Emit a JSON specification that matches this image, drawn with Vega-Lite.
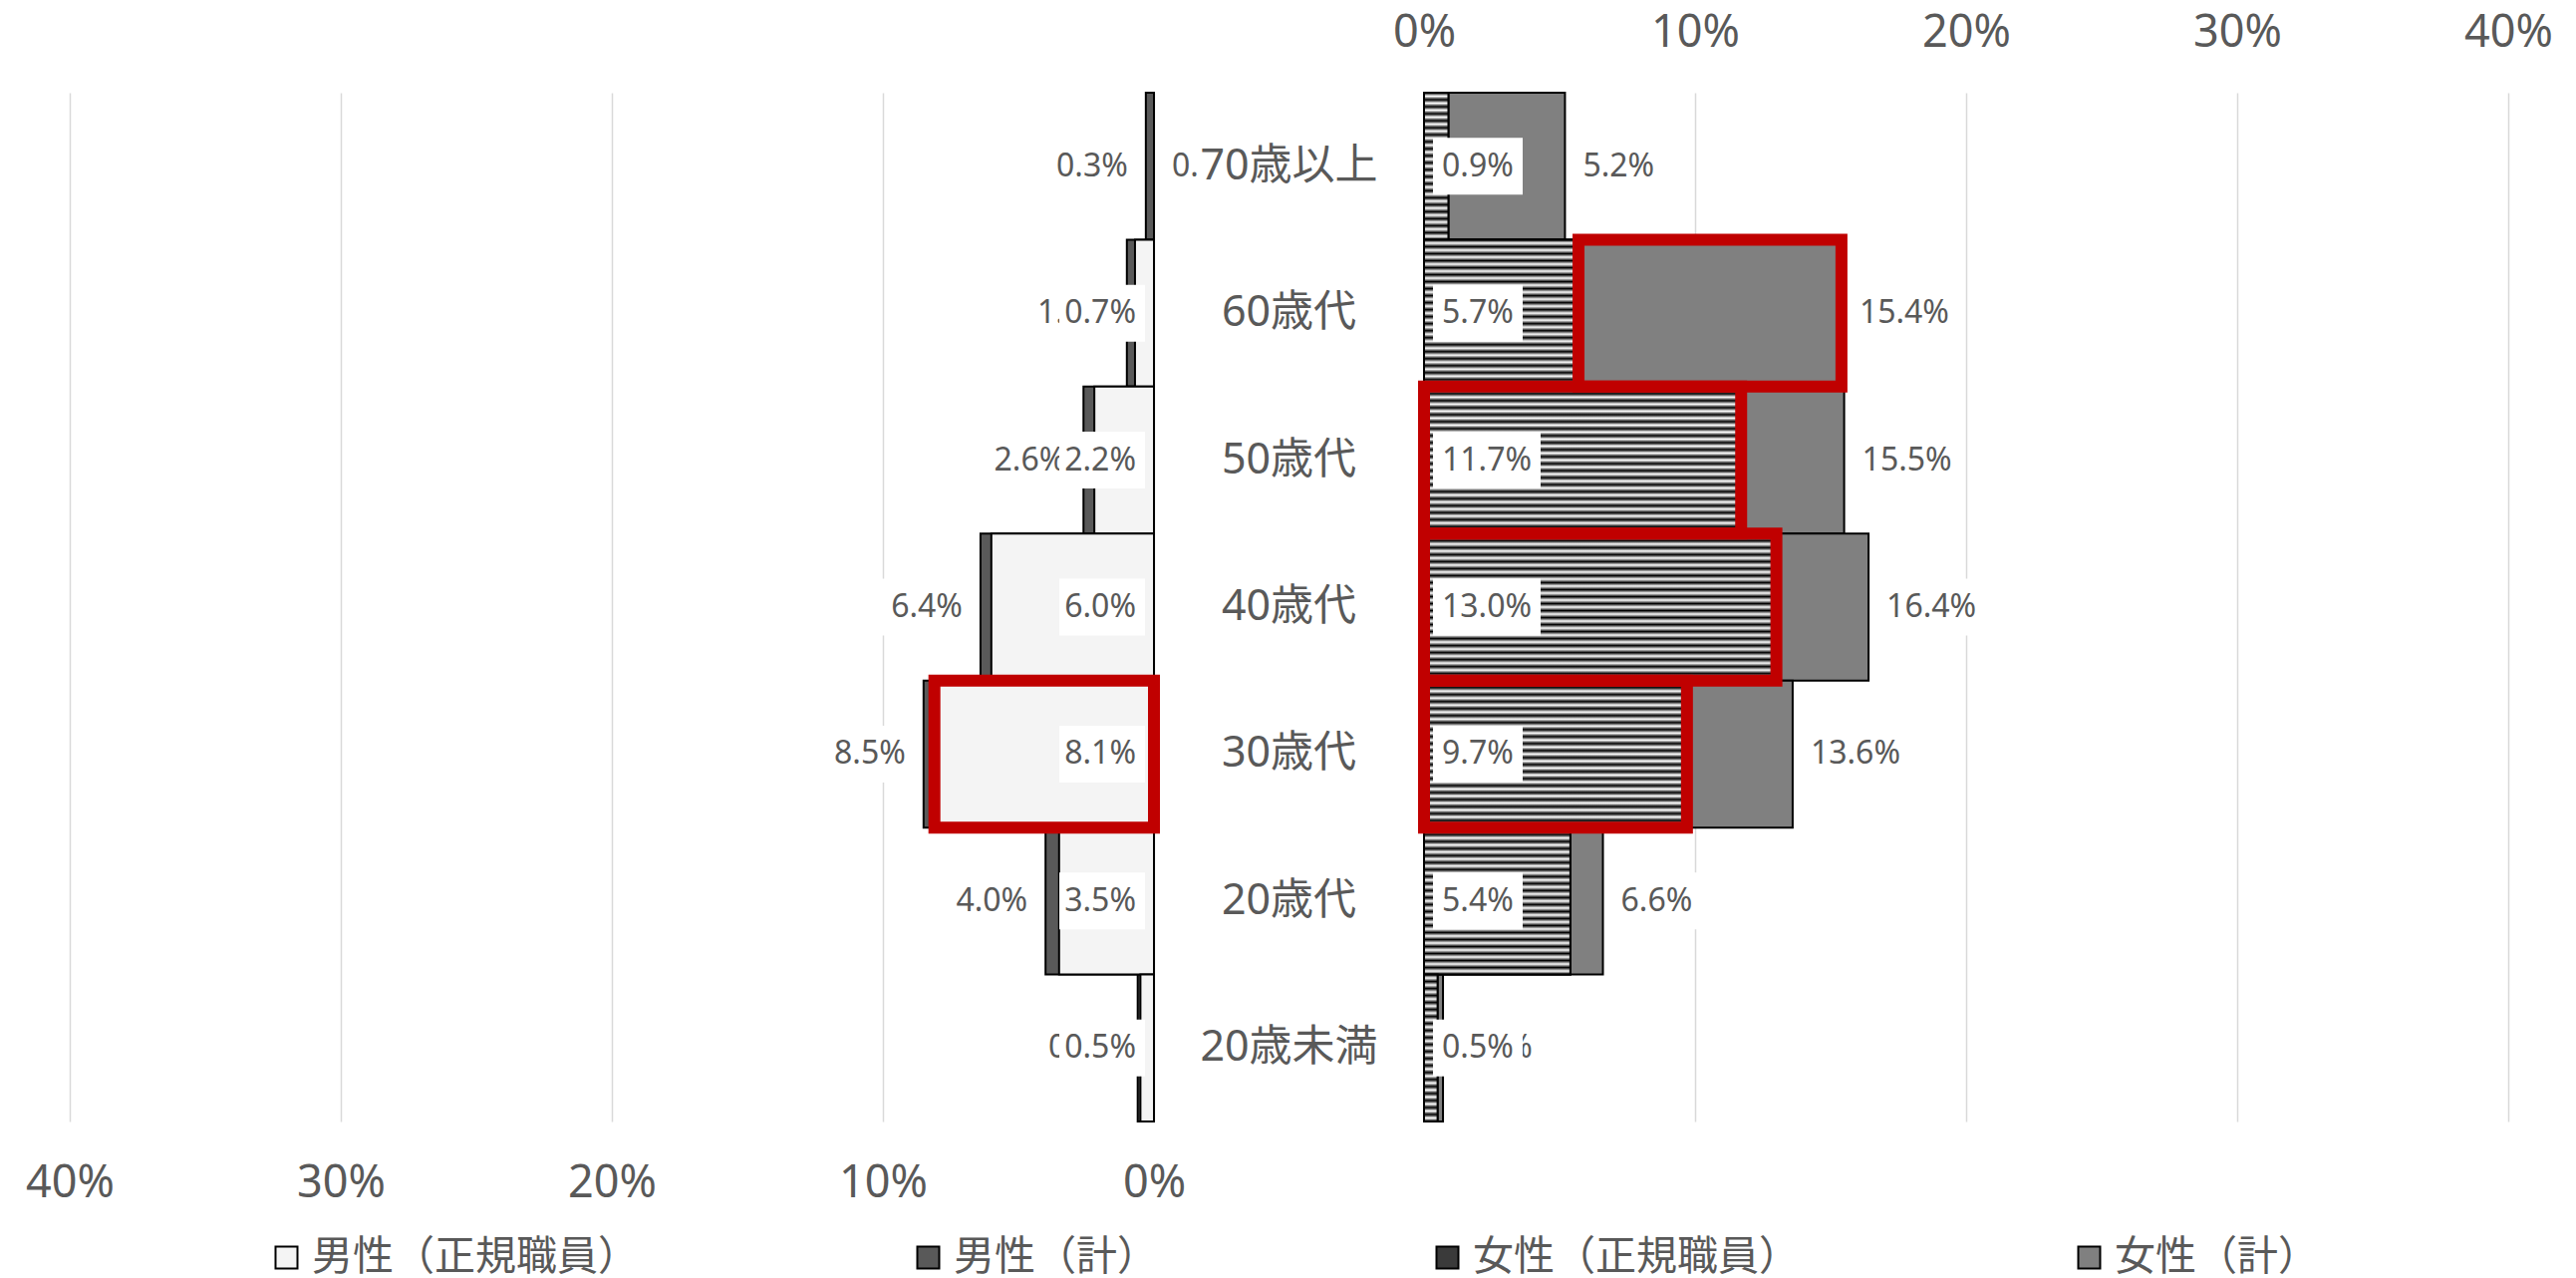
{
  "$schema": "https://vega.github.io/schema/vega-lite/v6.json",
  "background": "white",
  "padding": {"left": 25, "top": 10, "right": 5, "bottom": 5},
  "config": {
    "font": "Noto Sans, Noto Sans CJK JP",
    "view": {"stroke": null},
    "axis": {
      "grid": true, "gridColor": "#d9d9d9", "gridWidth": 1.5,
      "domain": false, "ticks": false,
      "labelFontSize": 45, "labelColor": "#595959", "labelPadding": 61,
      "labelBaseline": "middle", "labelFlush": false, "labelOverlap": false
    }
  },
  "datasets": {
    "ages": [
      {"age": "70歳以上", "m_tot": 0.003, "m_reg": 0.0, "f_reg": 0.009, "f_tot": 0.052},
      {"age": "60歳代", "m_tot": 0.010, "m_reg": 0.007, "f_reg": 0.057, "f_tot": 0.154},
      {"age": "50歳代", "m_tot": 0.026, "m_reg": 0.022, "f_reg": 0.117, "f_tot": 0.155},
      {"age": "40歳代", "m_tot": 0.064, "m_reg": 0.060, "f_reg": 0.130, "f_tot": 0.164},
      {"age": "30歳代", "m_tot": 0.085, "m_reg": 0.081, "f_reg": 0.097, "f_tot": 0.136},
      {"age": "20歳代", "m_tot": 0.040, "m_reg": 0.035, "f_reg": 0.054, "f_tot": 0.066},
      {"age": "20歳未満", "m_tot": 0.006, "m_reg": 0.005, "f_reg": 0.005, "f_tot": 0.007}
    ],
    "hl": [
      {"side": "male", "age": "30歳代", "start": 0, "end": 0.081},
      {"side": "female", "age": "60歳代", "start": 0.057, "end": 0.154},
      {"side": "female", "age": "50歳代", "start": 0, "end": 0.117},
      {"side": "female", "age": "40歳代", "start": 0, "end": 0.130},
      {"side": "female", "age": "30歳代", "start": 0, "end": 0.097}
    ]
  },
  "spacing": 0,
  "bounds": "flush",
  "resolve": {"scale": {"x": "independent", "y": "shared", "fill": "shared"}},
  "hconcat": [
    {
      "width": 1088, "height": 1032,
      "data": {"name": "ages"},
      "encoding": {
        "y": {"field": "age", "type": "nominal", "scale": {"domain": ["70歳以上", "60歳代", "50歳代", "40歳代", "30歳代", "20歳代", "20歳未満"], "paddingInner": 0, "paddingOuter": 0}, "axis": null}
      },
      "layer": [
        {
          "mark": {"type": "bar", "stroke": "#000", "strokeWidth": 2},
          "encoding": {
            "x": {"field": "m_tot", "type": "quantitative", "scale": {"domain": [0, 0.4], "reverse": true, "nice": false}, "axis": {"orient": "bottom", "values": [0, 0.1, 0.2, 0.3, 0.4], "format": ".0%", "title": null}},
            "fill": {"datum": "男性（計）", "type": "nominal",
              "scale": {"domain": ["男性（正規職員）", "男性（計）", "女性（正規職員）", "女性（計）"], "range": ["#f4f4f4", "#595959", "#3a3a3a", "#808080"]},
              "legend": {"orient": "none", "legendX": 197, "legendY": 1148, "direction": "horizontal", "title": null, "labelFontSize": 41, "labelColor": "#595959", "labelLimit": 2000, "gridAlign": "none", "symbolType": "square", "symbolSize": 484, "symbolStrokeColor": "#000", "symbolStrokeWidth": 2, "labelOffset": 5, "columnPadding": 270, "symbolOpacity": 1}}
          }
        },
        {
          "mark": {"type": "bar", "stroke": "#000", "strokeWidth": 2},
          "encoding": {
            "x": {"field": "m_reg", "type": "quantitative", "scale": {"domain": [0, 0.4], "reverse": true, "nice": false}, "axis": {"orient": "bottom", "values": [0, 0.1, 0.2, 0.3, 0.4], "format": ".0%", "title": null}},
            "fill": {"datum": "男性（正規職員）", "type": "nominal"}
          }
        },
        {
          "data": {"name": "hl"},
          "transform": [{"filter": "datum.side === 'male'"}],
          "mark": {"type": "bar", "fill": "transparent", "fillOpacity": 0, "stroke": "#C00000", "strokeWidth": 12},
          "encoding": {
            "x": {"field": "start", "type": "quantitative", "scale": {"domain": [0, 0.4], "reverse": true, "nice": false}, "axis": {"orient": "bottom", "values": [0, 0.1, 0.2, 0.3, 0.4], "format": ".0%", "title": null}},
            "x2": {"field": "end"}
          }
        },
        {
          "mark": {"type": "point", "filled": true, "color": "white", "opacity": 1, "size": 10000, "strokeWidth": 0, "shape": "M-0.18,-0.57H-1.98V0.57H-0.18Z"},
          "encoding": {
            "x": {"field": "m_tot", "type": "quantitative", "scale": {"domain": [0, 0.4], "reverse": true, "nice": false}, "axis": {"orient": "bottom", "values": [0, 0.1, 0.2, 0.3, 0.4], "format": ".0%", "title": null}}
          }
        },
        {
          "mark": {"type": "text", "fontSize": 32, "color": "#595959", "align": "right", "baseline": "middle", "dx": -18},
          "encoding": {
            "x": {"field": "m_tot", "type": "quantitative", "scale": {"domain": [0, 0.4], "reverse": true, "nice": false}, "axis": {"orient": "bottom", "values": [0, 0.1, 0.2, 0.3, 0.4], "format": ".0%", "title": null}},
            "text": {"field": "m_tot", "type": "quantitative", "format": ".1%"}
          }
        },
        {
          "transform": [{"filter": "datum.m_reg > 0"}],
          "mark": {"type": "point", "filled": true, "color": "white", "opacity": 1, "size": 10000, "strokeWidth": 0, "shape": "M-0.18,-0.57H-1.9V0.57H-0.18Z"},
          "encoding": {
            "x": {"datum": 0, "type": "quantitative", "scale": {"domain": [0, 0.4], "reverse": true, "nice": false}, "axis": {"orient": "bottom", "values": [0, 0.1, 0.2, 0.3, 0.4], "format": ".0%", "title": null}}
          }
        },
        {
          "transform": [{"filter": "datum.m_reg > 0"}],
          "mark": {"type": "text", "fontSize": 32, "color": "#595959", "align": "right", "baseline": "middle", "dx": -18},
          "encoding": {
            "x": {"datum": 0, "type": "quantitative", "scale": {"domain": [0, 0.4], "reverse": true, "nice": false}, "axis": {"orient": "bottom", "values": [0, 0.1, 0.2, 0.3, 0.4], "format": ".0%", "title": null}},
            "text": {"field": "m_reg", "type": "quantitative", "format": ".1%"}
          }
        },
        {
          "transform": [{"filter": "datum.m_reg == 0"}],
          "mark": {"type": "text", "fontSize": 32, "color": "#595959", "align": "left", "baseline": "middle", "dx": 18},
          "encoding": {
            "x": {"datum": 0, "type": "quantitative", "scale": {"domain": [0, 0.4], "reverse": true, "nice": false}, "axis": {"orient": "bottom", "values": [0, 0.1, 0.2, 0.3, 0.4], "format": ".0%", "title": null}},
            "text": {"field": "m_reg", "type": "quantitative", "format": ".1%"}
          }
        }
      ]
    },
    {
      "width": 271, "height": 1032,
      "data": {"name": "ages"},
      "encoding": {
        "y": {"field": "age", "type": "nominal", "scale": {"domain": ["70歳以上", "60歳代", "50歳代", "40歳代", "30歳代", "20歳代", "20歳未満"], "paddingInner": 0, "paddingOuter": 0}, "axis": null}
      },
      "layer": [
        {"mark": {"type": "point", "filled": true, "color": "white", "opacity": 1, "size": 10000, "strokeWidth": 0, "shape": "M-1.84,-0.57H1.94V0.57H-1.84Z"}},
        {"mark": {"type": "text", "fontSize": 43, "color": "#595959", "baseline": "middle"}, "encoding": {"text": {"field": "age", "type": "nominal"}}}
      ]
    },
    {
      "width": 1088, "height": 1032,
      "data": {"name": "ages"},
      "encoding": {
        "y": {"field": "age", "type": "nominal", "scale": {"domain": ["70歳以上", "60歳代", "50歳代", "40歳代", "30歳代", "20歳代", "20歳未満"], "paddingInner": 0, "paddingOuter": 0}, "axis": null}
      },
      "layer": [
        {
          "mark": {"type": "bar", "stroke": "#000", "strokeWidth": 2},
          "encoding": {
            "x": {"field": "f_tot", "type": "quantitative", "scale": {"domain": [0, 0.4], "nice": false}, "axis": {"orient": "top", "values": [0, 0.1, 0.2, 0.3, 0.4], "format": ".0%", "title": null}},
            "fill": {"datum": "女性（計）", "type": "nominal"}
          }
        },
        {
          "mark": {"type": "bar", "stroke": "#000", "strokeWidth": 2},
          "encoding": {
            "x": {"field": "f_reg", "type": "quantitative", "scale": {"domain": [0, 0.4], "nice": false}, "axis": {"orient": "top", "values": [0, 0.1, 0.2, 0.3, 0.4], "format": ".0%", "title": null}},
            "fill": {"datum": "女性（正規職員）", "type": "nominal"}
          }
        },
        {
          "mark": {"type": "bar", "stroke": "#000", "strokeWidth": 2, "fill": {"gradient": "linear", "x1": 0, "y1": 0, "x2": 0, "y2": 1, "stops": [
            {"offset": 0, "color": "#000"}, {"offset": 0.0238, "color": "#fff"}, {"offset": 0.0476, "color": "#000"}, {"offset": 0.0714, "color": "#fff"},
            {"offset": 0.0952, "color": "#000"}, {"offset": 0.119, "color": "#fff"}, {"offset": 0.1429, "color": "#000"}, {"offset": 0.1667, "color": "#fff"},
            {"offset": 0.1905, "color": "#000"}, {"offset": 0.2143, "color": "#fff"}, {"offset": 0.2381, "color": "#000"}, {"offset": 0.2619, "color": "#fff"},
            {"offset": 0.2857, "color": "#000"}, {"offset": 0.3095, "color": "#fff"}, {"offset": 0.3333, "color": "#000"}, {"offset": 0.3571, "color": "#fff"},
            {"offset": 0.381, "color": "#000"}, {"offset": 0.4048, "color": "#fff"}, {"offset": 0.4286, "color": "#000"}, {"offset": 0.4524, "color": "#fff"},
            {"offset": 0.4762, "color": "#000"}, {"offset": 0.5, "color": "#fff"}, {"offset": 0.5238, "color": "#000"}, {"offset": 0.5476, "color": "#fff"},
            {"offset": 0.5714, "color": "#000"}, {"offset": 0.5952, "color": "#fff"}, {"offset": 0.619, "color": "#000"}, {"offset": 0.6429, "color": "#fff"},
            {"offset": 0.6667, "color": "#000"}, {"offset": 0.6905, "color": "#fff"}, {"offset": 0.7143, "color": "#000"}, {"offset": 0.7381, "color": "#fff"},
            {"offset": 0.7619, "color": "#000"}, {"offset": 0.7857, "color": "#fff"}, {"offset": 0.8095, "color": "#000"}, {"offset": 0.8333, "color": "#fff"},
            {"offset": 0.8571, "color": "#000"}, {"offset": 0.881, "color": "#fff"}, {"offset": 0.9048, "color": "#000"}, {"offset": 0.9286, "color": "#fff"},
            {"offset": 0.9524, "color": "#000"}, {"offset": 0.9762, "color": "#fff"}, {"offset": 1, "color": "#000"}
          ]}},
          "encoding": {
            "x": {"field": "f_reg", "type": "quantitative", "scale": {"domain": [0, 0.4], "nice": false}, "axis": {"orient": "top", "values": [0, 0.1, 0.2, 0.3, 0.4], "format": ".0%", "title": null}}
          }
        },
        {
          "data": {"name": "hl"},
          "transform": [{"filter": "datum.side === 'female'"}],
          "mark": {"type": "bar", "fill": "transparent", "fillOpacity": 0, "stroke": "#C00000", "strokeWidth": 12},
          "encoding": {
            "x": {"field": "start", "type": "quantitative", "scale": {"domain": [0, 0.4], "nice": false}, "axis": {"orient": "top", "values": [0, 0.1, 0.2, 0.3, 0.4], "format": ".0%", "title": null}},
            "x2": {"field": "end"}
          }
        },
        {
          "mark": {"type": "point", "filled": true, "color": "white", "opacity": 1, "size": 10000, "strokeWidth": 0},
          "encoding": {
            "x": {"field": "f_tot", "type": "quantitative", "scale": {"domain": [0, 0.4], "nice": false}, "axis": {"orient": "top", "values": [0, 0.1, 0.2, 0.3, 0.4], "format": ".0%", "title": null}},
            "shape": {"condition": {"test": "datum.f_tot >= 0.1", "value": "M0.18,-0.57H2.34V0.57H0.18Z"}, "value": "M0.18,-0.57H1.98V0.57H0.18Z"}
          }
        },
        {
          "mark": {"type": "text", "fontSize": 32, "color": "#595959", "align": "left", "baseline": "middle", "dx": 18},
          "encoding": {
            "x": {"field": "f_tot", "type": "quantitative", "scale": {"domain": [0, 0.4], "nice": false}, "axis": {"orient": "top", "values": [0, 0.1, 0.2, 0.3, 0.4], "format": ".0%", "title": null}},
            "text": {"field": "f_tot", "type": "quantitative", "format": ".1%"}
          }
        },
        {
          "mark": {"type": "point", "filled": true, "color": "white", "opacity": 1, "size": 10000, "strokeWidth": 0},
          "encoding": {
            "x": {"datum": 0, "type": "quantitative", "scale": {"domain": [0, 0.4], "nice": false}, "axis": {"orient": "top", "values": [0, 0.1, 0.2, 0.3, 0.4], "format": ".0%", "title": null}},
            "shape": {"condition": {"test": "datum.f_reg >= 0.1", "value": "M0.18,-0.57H2.34V0.57H0.18Z"}, "value": "M0.18,-0.57H1.98V0.57H0.18Z"}
          }
        },
        {
          "mark": {"type": "text", "fontSize": 32, "color": "#595959", "align": "left", "baseline": "middle", "dx": 18},
          "encoding": {
            "x": {"datum": 0, "type": "quantitative", "scale": {"domain": [0, 0.4], "nice": false}, "axis": {"orient": "top", "values": [0, 0.1, 0.2, 0.3, 0.4], "format": ".0%", "title": null}},
            "text": {"field": "f_reg", "type": "quantitative", "format": ".1%"}
          }
        }
      ]
    }
  ]
}
